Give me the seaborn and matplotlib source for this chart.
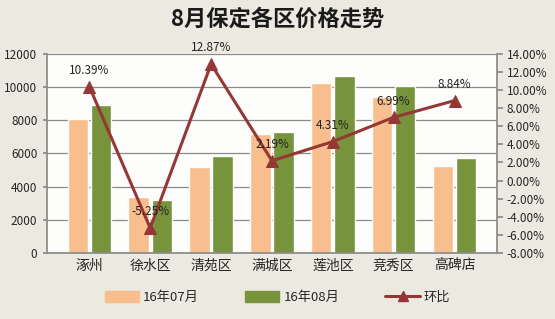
import pandas as pd
import matplotlib.pyplot as plt
import seaborn as sns
from matplotlib.patches import Patch
from matplotlib.lines import Line2D
from matplotlib.ticker import FuncFormatter

# ===== data =====
districts = ["涿州", "徐水区", "清苑区", "满城区", "莲池区", "竞秀区", "高碑店"]
price_jul = [8050, 3390, 5200, 7170, 10220, 9420, 5240]
price_aug = [8900, 3190, 5840, 7310, 10660, 10060, 5740]
mom = [10.39, -5.25, 12.87, 2.19, 4.31, 6.99, 8.84]
series_names = ["16年07月", "16年08月"]
line_name = "环比"

c_jul = "#F9BE8E"
c_aug = "#77933C"
c_line = "#953735"
bg = "#ECE9E0"

sns.set_theme(style="white")
plt.rcParams["font.family"] = ["Noto Sans CJK SC", "DejaVu Sans"]

df = pd.DataFrame({
    "district": districts * 2,
    "price": price_jul + price_aug,
    "month": [series_names[0]] * len(districts) + [series_names[1]] * len(districts),
})
df_line = pd.DataFrame({"district": districts, "mom": mom})

fig = plt.figure(figsize=(5.55, 3.19), dpi=100)
fig.patch.set_facecolor(bg)
ax = fig.add_axes([0.085, 0.207, 0.81, 0.624])
ax.set_facecolor("#FDFDFB")

sns.barplot(data=df, x="district", y="price", hue="month", order=districts,
            palette=[c_jul, c_aug], width=0.76, gap=0.12, ax=ax, legend=False,
            saturation=1)
ax.set_ylim(0, 12000)
ax.set_yticks(range(0, 12001, 2000))
ax.yaxis.grid(True, color="#8A8A8A", linewidth=0.9)
ax.set_axisbelow(True)
ax.set_xlabel("")
ax.set_ylabel("")
ax.tick_params(axis="y", labelsize=8.5, length=3, color="#8A8A8A", pad=4, left=True)
ax.tick_params(axis="x", labelsize=10, length=0, pad=4)
for s in ["top", "right"]:
    ax.spines[s].set_visible(False)
for s in ["left", "bottom"]:
    ax.spines[s].set_color("#8A8A8A")

ax2 = ax.twinx()
sns.lineplot(data=df_line, x="district", y="mom", ax=ax2, color=c_line,
             linewidth=2.2, marker="^", markersize=8, markeredgecolor=c_line,
             sort=False)
ax2.set_ylim(-8, 14)
ax2.set_yticks(range(-8, 15, 2))
ax2.yaxis.set_major_formatter(FuncFormatter(lambda v, p: f"{v:.2f}%"))
ax2.tick_params(axis="y", labelsize=8.5, length=4, color="#8A8A8A", right=True, pad=3)
ax2.set_ylabel("")
for s in ["top", "left", "bottom"]:
    ax2.spines[s].set_visible(False)
ax2.spines["right"].set_color("#8A8A8A")

for i, v in enumerate(mom):
    ax2.annotate(f"{v:.2f}%", (i, v), xytext=(0, 7), textcoords="offset points",
                 ha="center", va="bottom", fontsize=8.5, color="#222222",
                 annotation_clip=False)

fig.suptitle("8月保定各区价格走势", x=0.5, y=0.975, fontsize=16,
             fontweight="bold", color="#1a1a1a")

handles = [Patch(color=c_jul), Patch(color=c_aug),
           Line2D([], [], color=c_line, linewidth=2.2, marker="^", markersize=7)]
fig.legend(handles, series_names + [line_name], loc="center", ncol=3,
           bbox_to_anchor=(0.5, 0.068), frameon=False, fontsize=9.5,
           handlelength=2.6, handleheight=0.9, columnspacing=3.5,
           handletextpad=0.3)

plt.savefig("out.png", dpi=100, facecolor=bg)
plt.close()
